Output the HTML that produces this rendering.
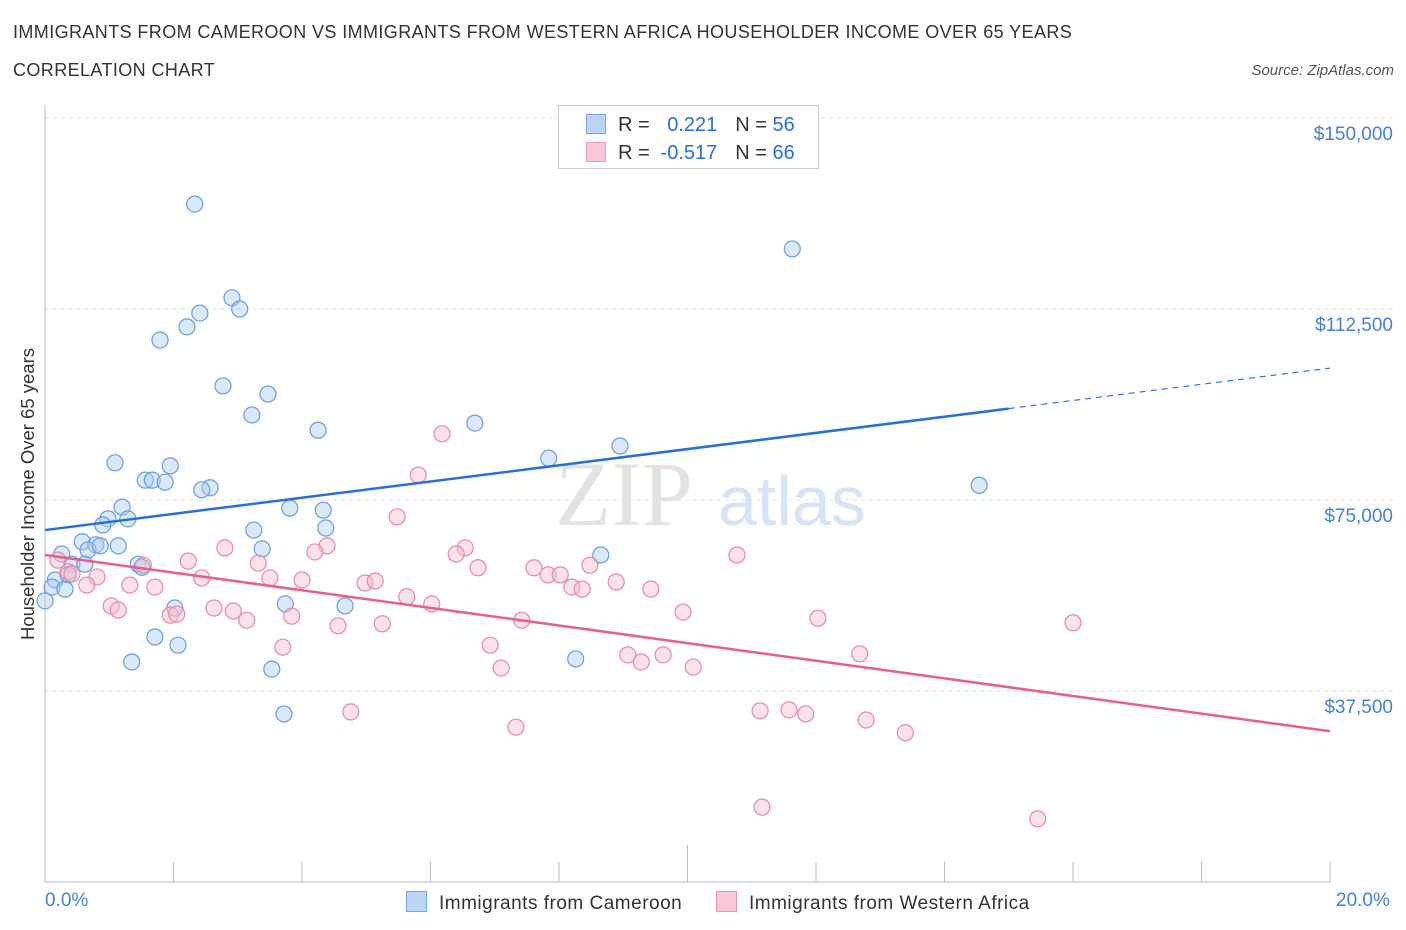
<!DOCTYPE html>
<html><head><meta charset="utf-8">
<style>
body{margin:0;background:#fff;font-family:"Liberation Sans",sans-serif;}
#wrap{position:relative;width:1406px;height:930px;overflow:hidden;}
.t{position:absolute;white-space:nowrap;}
</style></head>
<body>
<div id="wrap">
<div class="t" style="left:13px;top:22px;font-size:18px;color:#333;letter-spacing:0.4px;">IMMIGRANTS FROM CAMEROON VS IMMIGRANTS FROM WESTERN AFRICA HOUSEHOLDER INCOME OVER 65 YEARS</div>
<div class="t" style="left:13px;top:60px;font-size:18px;color:#333;letter-spacing:0.4px;">CORRELATION CHART</div>
<div class="t" style="right:12px;top:62px;font-size:15px;color:#555;font-style:italic;">Source: ZipAtlas.com</div>
<svg id="svg" width="1406" height="930" style="position:absolute;left:0;top:0"></svg>
</div>
<script>
const yTicks=[37500,75000,112500,150000];
const yTickLabels=["$37,500","$75,000","$112,500","$150,000"];
const blueX=[2.33,11.63,2.91,3.03,2.41,2.21,1.79,2.77,3.47,3.22,4.25,6.69,7.84,8.95,14.54,1.09,1.95,1.56,1.67,1.87,2.57,2.44,1.20,3.81,4.33,0.98,1.29,0.90,3.25,4.37,0.58,0.79,1.14,0.67,3.38,0.26,0.86,1.45,1.51,0.42,0.62,8.65,0.16,0.36,0.11,0.31,0.0,2.02,3.74,4.67,1.71,2.07,1.35,8.26,3.53,3.72];
const blueY=[133100,124300,114700,112500,111700,109000,106400,97400,95800,91700,88700,90100,83200,85600,77900,82300,81700,78900,78900,78500,77400,77000,73600,73400,73000,71300,71300,70100,69100,69500,66800,66200,66000,65200,65400,64400,66000,62400,61800,62400,62400,64200,59300,60300,57900,57500,55200,53800,54600,54200,48100,46500,43200,43800,41800,33000];
const pinkX=[6.18,5.81,5.48,4.39,4.20,6.54,6.40,2.80,10.77,1.53,2.23,3.32,7.61,6.74,7.83,8.02,8.48,2.44,3.50,4.00,4.98,5.14,8.20,8.36,8.89,9.43,1.32,1.71,0.81,0.65,0.36,0.20,5.63,6.02,1.03,1.14,2.63,2.93,1.95,2.05,3.14,3.84,7.42,9.93,12.03,16.00,4.56,5.25,3.70,6.93,9.07,9.28,9.62,12.68,7.10,10.09,4.76,11.13,11.58,11.84,12.78,7.33,13.39,11.16,15.45,0.42];
const pinkY=[88000,79900,71700,66000,64800,65600,64400,65600,64200,62200,63000,62600,61700,61700,60300,60300,62200,59700,59700,59300,58700,59100,57900,57500,58900,57500,58300,57900,59900,58300,60900,63200,56000,54600,54200,53400,53800,53200,52400,52600,51400,52200,51400,53000,51800,50900,50300,50700,46100,46500,44600,43200,44600,44800,42000,42200,33400,33600,33800,33000,31800,30400,29300,14700,12400,60500];
const blueTrend=[69100,100900];
const pinkTrend=[64200,29600];
const blueSolidEnd=15.0;

const X=v=>45+v*64.25, Y=v=>882-v/196.34;
const svg=document.getElementById('svg'),NS='http://www.w3.org/2000/svg';
function mk(tag,a,p){const e=document.createElementNS(NS,tag);for(const k in a)e.setAttribute(k,a[k]);(p||svg).appendChild(e);return e;}
yTicks.forEach((v,i)=>{
 const g=mk('line',{x1:45,x2:1395,y1:Y(v),y2:Y(v),stroke:'#ddd','stroke-dasharray':'4,4'});
 
 
 const t=mk('text',{x:1393,y:Y(v)+22,'text-anchor':'end','font-size':19,fill:'#4a80d0','font-family':'Liberation Sans'});
 t.textContent=yTickLabels[i];
 
 
});
mk('line',{x1:45,x2:45,y1:105,y2:882,stroke:'#bbb'});
mk('line',{x1:45,x2:1330,y1:882,y2:882,stroke:'#bbb'});
for(let i=0;i<=10;i++){const x=X(i*2);const tk=mk('line',{x1:x,x2:x,y1:i==5?845:862,y2:882,stroke:'#bbb'});
 
 }
const w=mk('text',{x:555,y:525,'font-size':92,fill:'#e3e3e3','font-family':'Liberation Serif'});w.textContent='ZIP';


const w2=mk('text',{x:718,y:525,'font-size':70,fill:'#d6e4f6','font-family':'Liberation Sans'});w2.textContent='atlas';


function pts(xs,ys,fill,stroke,name){xs.forEach((x,i)=>{const c=mk('circle',{cx:X(x),cy:Y(ys[i]),r:8,fill:fill,'fill-opacity':0.45,stroke:stroke,'stroke-width':1.2});
 
 });}
pts(blueX,blueY,'#aecbf0','#6a9ce0','cameroon-point');
pts(pinkX,pinkY,'#f6bccd','#e68aa8','western-africa-point');
const bAt=x=>blueTrend[0]+(blueTrend[1]-blueTrend[0])*x/20;
const bl=mk('line',{x1:X(0),y1:Y(bAt(0)),x2:X(blueSolidEnd),y2:Y(bAt(blueSolidEnd)),stroke:'#2a6fd6','stroke-width':2.5});


const bd=mk('line',{x1:X(blueSolidEnd),y1:Y(bAt(blueSolidEnd)),x2:X(20),y2:Y(bAt(20)),stroke:'#2a6fd6','stroke-width':1.2,'stroke-dasharray':'6,5'});


const pl=mk('line',{x1:X(0),y1:Y(pinkTrend[0]),x2:X(20),y2:Y(pinkTrend[1]),stroke:'#e5608e','stroke-width':2.5});


</script>
<div class="t" style="left:28px;top:494px;font-size:18.5px;color:#333;transform:translate(-50%,-50%) rotate(-90deg);">Householder Income Over 65 years</div>
<div class="t" style="left:45px;top:890px;font-size:19px;color:#4a80d0;">0.0%</div>
<div class="t" style="left:1336px;top:890px;font-size:19px;color:#4a80d0;">20.0%</div>
<div style="position:absolute;left:558px;top:105px;width:259px;height:62px;border:1px solid #ccc;background:#fff;font-size:20px;">
 <div style="position:absolute;left:27px;top:8px;white-space:nowrap;"><span style="display:inline-block;width:18px;height:18px;background:#bcd5f4;border:1px solid #7aa7e4;vertical-align:-3px;"></span><span style="color:#333;margin-left:12px;">R = </span><span style="color:#2a6fd6;display:inline-block;width:62px;text-align:right;">0.221</span><span style="color:#333;margin-left:18px;">N = </span><span style="color:#2a6fd6;">56</span></div>
 <div style="position:absolute;left:27px;top:36px;white-space:nowrap;"><span style="display:inline-block;width:18px;height:18px;background:#f8c8d6;border:1px solid #ea97b1;vertical-align:-3px;"></span><span style="color:#333;margin-left:12px;">R = </span><span style="color:#2a6fd6;display:inline-block;width:62px;text-align:right;">-0.517</span><span style="color:#333;margin-left:18px;">N = </span><span style="color:#2a6fd6;">66</span></div>
</div>
<div style="position:absolute;left:406px;top:891px;font-size:19px;color:#333;white-space:nowrap;letter-spacing:0.5px;"><span style="display:inline-block;width:19px;height:19px;background:#bcd5f4;border:1px solid #7aa7e4;vertical-align:-3px;margin-right:12px;"></span>Immigrants from Cameroon</div>
<div style="position:absolute;left:716px;top:891px;font-size:19px;color:#333;white-space:nowrap;letter-spacing:0.5px;"><span style="display:inline-block;width:19px;height:19px;background:#f8c8d6;border:1px solid #ea97b1;vertical-align:-3px;margin-right:12px;"></span>Immigrants from Western Africa</div>
</body></html>
